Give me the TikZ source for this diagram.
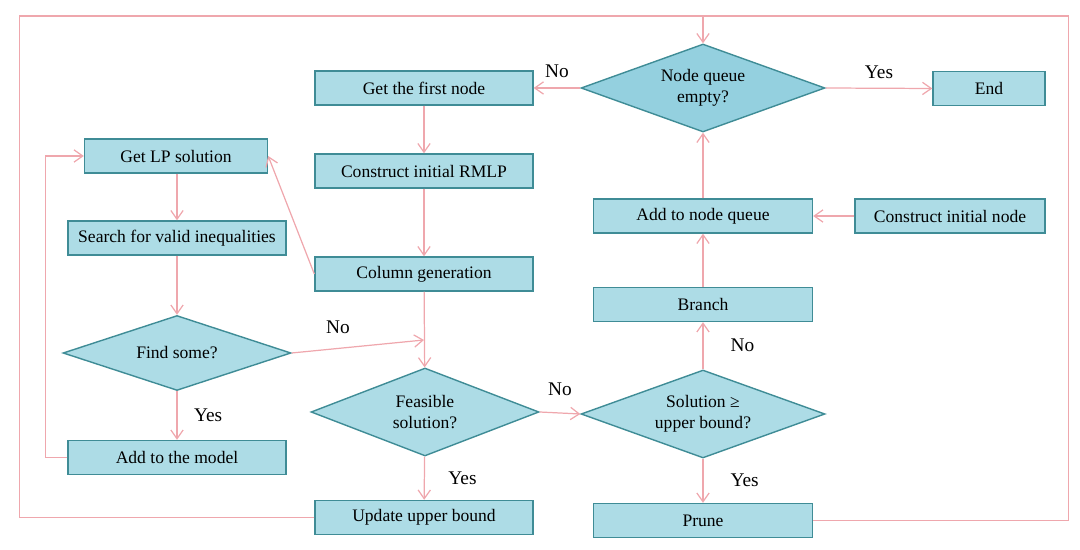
\documentclass[tikz,border=0pt]{standalone}
\usepackage{fontspec}
\setmainfont{Liberation Serif}
\usetikzlibrary{arrows.meta, shapes.geometric}
\definecolor{boxfill}{HTML}{ADDCE6}
\definecolor{boxedge}{HTML}{3F8C96}
\definecolor{queuefill}{HTML}{94D0DF}
\definecolor{link}{HTML}{EFA7AD}

\begin{document}
\begin{tikzpicture}[x=0.02cm, y=-0.02cm, font=\fontsize{10}{12}\selectfont,
  procbox/.style={draw=boxedge, fill=boxfill, line width=0.8pt,
    minimum height=0.68cm, inner sep=2pt},
  decide/.style={diamond, draw=boxedge, fill=boxfill, line width=0.8pt,
    inner sep=0pt, align=center, aspect=2.8},
  flow/.style={draw=link, line width=0.7pt,
    -{Straight Barb[length=5pt, width=7pt]}},
  tag/.style={font=\fontsize{11}{13}\selectfont}]
  \useasboundingbox (0,0) rectangle (1080,550);

  \node[procbox, minimum width=4.36cm] (first) at (424,88) {Get the first node};
  \node[procbox, minimum width=4.36cm] (rmlp) at (424,171) {Construct initial RMLP};
  \node[procbox, minimum width=4.36cm] (colgen) at (424,274) {Column generation};
  \node[decide, aspect=2.6, minimum width=4.56cm, minimum height=1.76cm] (feas)
    at (425,412) {Feasible\\solution?};
  \node[procbox, minimum width=4.36cm] (upper) at (424,517.5) {Update upper bound};

  \node[procbox, minimum width=3.66cm] (lpsol) at (176,156) {Get LP solution};
  \node[procbox, minimum width=4.36cm] (search) at (177,238)
    {Search for valid inequalities};
  \node[decide, aspect=3, minimum width=4.56cm, minimum height=1.5cm] (findsome)
    at (177,353) {Find some?};
  \node[procbox, minimum width=4.36cm] (addmodel) at (177,457.5) {Add to the model};

  \node[decide, fill=queuefill, minimum width=4.88cm, minimum height=1.76cm] (empty)
    at (703,88) {Node queue\\empty?};
  \node[procbox, minimum width=2.24cm] (end) at (989,88.5) {End};
  \node[procbox, minimum width=4.38cm] (addqueue) at (703,216) {Add to node queue};
  \node[procbox, minimum width=3.8cm] (initnode) at (950,216) {Construct initial node};
  \node[procbox, minimum width=4.38cm] (branch) at (703,304.5) {Branch};
  \node[decide, minimum width=4.88cm, minimum height=1.76cm] (bound) at (703,414)
    {Solution ≥\\upper bound?};
  \node[procbox, minimum width=4.38cm] (prune) at (703,520.5) {Prune};

  \coordinate (merge) at (424,340);
  \coordinate (topjoin) at (703,16);

  \draw[flow] (empty.west) -- (first.east) node[tag, midway, above=2pt] {No};
  \draw[flow] (empty.east) -- (end.west) node[tag, midway, above=2pt] {Yes};
  \draw[flow] (first) -- (rmlp);
  \draw[flow] (rmlp) -- (colgen);
  \draw[flow] (colgen.west) -- (lpsol.east);
  \draw[flow] (lpsol.south -| search) -- (search.north);
  \draw[flow] (search) -- (findsome);
  \draw[flow] (findsome.east) -- (merge) node[tag, pos=0.35, above=5pt] {No};
  \draw[flow] (colgen) -- (feas);
  \draw[flow] (findsome) -- (addmodel) node[tag, midway, right=6pt] {Yes};
  \draw[flow] (addmodel.west) -- ++(-22,0) |- (lpsol.west);
  \draw[flow] (feas) -- (upper) node[tag, midway, right=10pt] {Yes};
  \draw[flow] (feas.east) -- (bound.west) node[tag, midway, above=6pt] {No};
  \draw[flow] (bound) -- (branch) node[tag, midway, right=12pt] {No};
  \draw[flow] (bound) -- (prune) node[tag, midway, right=12pt] {Yes};
  \draw[flow] (branch) -- (addqueue);
  \draw[flow] (initnode) -- (addqueue);
  \draw[flow] (addqueue) -- (empty);
  \draw[flow] (upper.west) -- ++(-295,0) |- (topjoin) -- (empty.north);
  \draw[draw=link, line width=0.7pt] (prune.east) -- ++(255,0) |- (topjoin);
\end{tikzpicture}
\end{document}
